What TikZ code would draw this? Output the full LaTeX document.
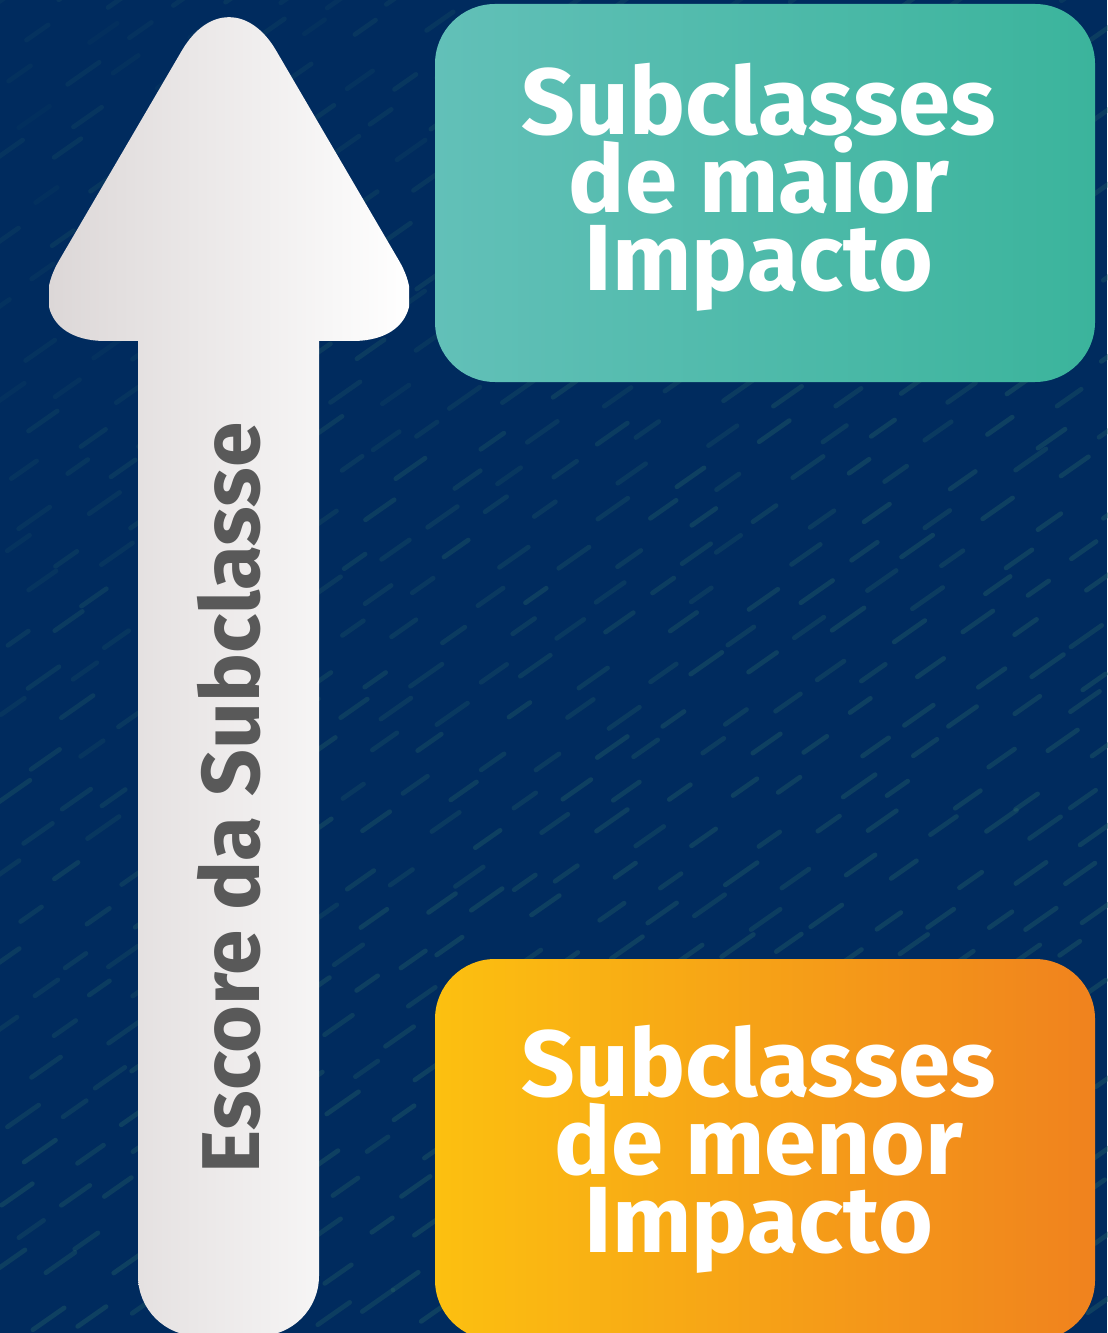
\documentclass[tikz,border=0pt]{standalone}
\usepackage{fontspec}
\setmainfont{Fira Sans}
\definecolor{bgnavy}{HTML}{002B5E}
\definecolor{dashc}{HTML}{2E6E68}
\definecolor{arrL}{HTML}{DCD7D7}
\definecolor{arrR}{HTML}{FFFFFF}
\definecolor{tealL}{HTML}{62C0B8}
\definecolor{tealR}{HTML}{3BB49C}
\definecolor{orgL}{HTML}{FCC010}
\definecolor{orgR}{HTML}{F0821E}
\definecolor{txtgray}{HTML}{595959}
\tikzset{
  boxtext/.style={text=white, align=center, font=\fontsize{70.5}{58.5}\selectfont\bfseries, inner sep=0pt},
  arrowtext/.style={text=txtgray, font=\fontsize{61.5}{61.5}\selectfont\bfseries, inner sep=0pt, rotate=90},
  bgdash/.style={draw=dashc, line width=3.5pt, line cap=round}
}
\begin{document}
\begin{tikzpicture}[x=0.75pt,y=-0.75pt]
\useasboundingbox (0,0) rectangle (1107,1333);
\fill[bgnavy] (0,0) rectangle (1107,1333);
% background texture
\pgfmathsetseed{7}
\foreach \j in {0,...,34}{
  \foreach \i in {0,...,20}{
    \pgfmathsetmacro{\px}{\i*56+mod(\j,2)*28+rand*12}
    \pgfmathsetmacro{\py}{\j*40+rand*10}
    \pgfmathsetmacro{\op}{max(0.05,min(0.32,0.10+0.22*(\px+\py)/1600+rand*0.06))}
    \pgfmathsetmacro{\dl}{20+rnd*12}
    \draw[bgdash, opacity=\op] (\px,\py) -- ++(\dl,-0.7*\dl);
  }
}
% arrow
\begin{scope}
  \clip[rounded corners=70pt] (12,341) -- (229,-30) -- (446,341) -- cycle;
  \shade[left color=arrL, right color=arrR] (49,-40) rectangle (409,1340);
\end{scope}
\begin{scope}
  \clip[rounded corners=45pt] (138,150) -- (138,1336) -- (319,1336) -- (319,150) -- cycle;
  \shade[left color=arrL, right color=arrR] (49,-40) rectangle (409,1340);
\end{scope}
\node[arrowtext] (lbl) at (229,798) {Escore da Subclasse};
% boxes
\shade[rounded corners=45pt, left color=tealL, right color=tealR] (435,4) rectangle (1095,382);
\node[boxtext] (top) at (759,187) {Subclasses\\de maior\\Impacto};
\shade[rounded corners=45pt, left color=orgL, right color=orgR] (435,959) rectangle (1095,1340);
\node[boxtext] (bot) at (759,1149) {Subclasses\\de menor\\Impacto};
\end{tikzpicture}
\end{document}
